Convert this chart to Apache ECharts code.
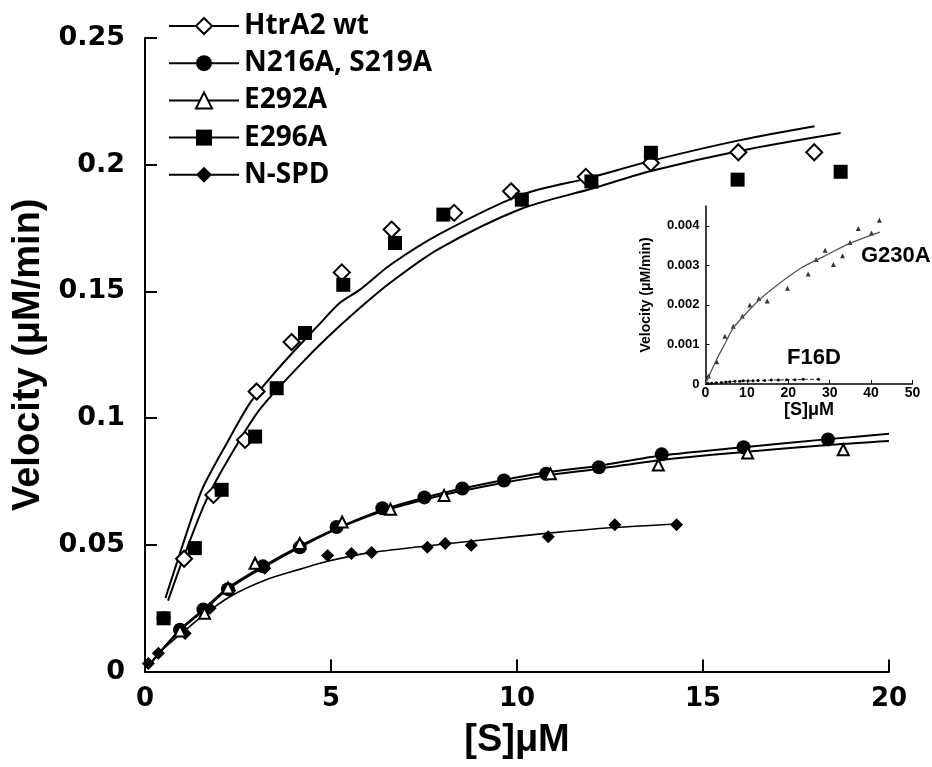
<!DOCTYPE html>
<html>
<head>
<meta charset="utf-8">
<script src="https://cdn.jsdelivr.net/npm/echarts@6/dist/echarts.min.js"></script>
<style>
html,body{margin:0;padding:0;background:#fff;}
#c{width:932px;height:767px;}
</style>
</head>
<body>
<div id="c"></div>
<script>
// ---------- main plot data ----------
const xTicks = [0, 5, 10, 15, 20];
const yTicks = [0, 0.05, 0.1, 0.15, 0.2, 0.25];

const wtX = [1.05, 1.84, 2.69, 3.0, 3.94, 5.29, 6.63, 8.31, 9.84, 11.85, 13.6, 15.95, 17.99];
const wtY = [0.0445, 0.0697, 0.0914, 0.1105, 0.130, 0.1575, 0.1744, 0.181, 0.1895, 0.1952, 0.2007, 0.2049, 0.2049];

const e296X = [0.5, 1.34, 2.06, 2.96, 3.54, 4.30, 5.33, 6.72, 8.02, 10.13, 12.0, 13.6, 15.93, 18.7];
const e296Y = [0.021, 0.0487, 0.0717, 0.0927, 0.1118, 0.1336, 0.1526, 0.1691, 0.1803, 0.1862, 0.1934, 0.2047, 0.1941, 0.1972];

const n216X = [0.5, 0.94, 1.57, 2.23, 3.17, 4.16, 5.15, 6.38, 7.51, 8.53, 9.65, 10.78, 12.2, 13.89, 16.09, 18.36];
const n216Y = [0.021, 0.0165, 0.0245, 0.0325, 0.0415, 0.049, 0.057, 0.0644, 0.0687, 0.0722, 0.0754, 0.078, 0.0806, 0.0857, 0.0885, 0.0916];

const e292X = [0.94, 1.6, 2.23, 2.96, 4.16, 5.3, 6.6, 8.04, 10.9, 13.8, 16.2, 18.77];
const e292Y = [0.016, 0.023, 0.033, 0.0427, 0.0505, 0.059, 0.064, 0.0695, 0.078, 0.0815, 0.0862, 0.0875];

const nspdX = [0.09, 0.36, 1.08, 1.75, 2.28, 3.22, 4.91, 5.55, 6.09, 7.59, 8.07, 8.77, 10.84, 12.63, 14.29];
const nspdY = [0.0032, 0.0072, 0.015, 0.025, 0.032, 0.0407, 0.0458, 0.0466, 0.047, 0.049, 0.0505, 0.0498, 0.0532, 0.0579, 0.0579];

// fitted curves
const wtCurveX = [0.55, 0.94, 1.3, 1.57, 2.2, 2.82, 3.36, 3.99, 4.62, 5.24, 5.78, 6.6, 7.9, 10.1, 12.0, 13.6, 16.0, 18.0];
const wtCurveY = [0.029, 0.0467, 0.0625, 0.073, 0.0901, 0.1059, 0.1158, 0.1262, 0.136, 0.1455, 0.1507, 0.1605, 0.1725, 0.188, 0.195, 0.2015, 0.2097, 0.2152];

const e296CurveX = [0.62, 1.08, 1.66, 2.33, 3.09, 4.17, 4.88, 5.78, 6.6, 7.9, 10.1, 12.0, 13.6, 16.0, 18.7];
const e296CurveY = [0.028, 0.0467, 0.068, 0.086, 0.1035, 0.121, 0.1315, 0.1435, 0.1535, 0.1668, 0.1825, 0.1905, 0.1975, 0.2055, 0.2125];

const midCurveX = [0.05, 0.94, 1.57, 2.23, 3.17, 4.16, 5.15, 6.38, 7.56, 8.53, 9.65, 10.78, 12.2, 13.89, 16.09, 18.44, 20];
const n216CurveY = [0.0015, 0.0165, 0.0245, 0.033, 0.0415, 0.0495, 0.0565, 0.0638, 0.0688, 0.0722, 0.0756, 0.0785, 0.0812, 0.0852, 0.0885, 0.0918, 0.0938];
const e292CurveY = [0.0015, 0.0163, 0.024, 0.0325, 0.041, 0.049, 0.0562, 0.0632, 0.068, 0.0713, 0.0745, 0.0773, 0.080, 0.0835, 0.0866, 0.0895, 0.091];

const nspdCurveX = [0.05, 0.5, 1.02, 1.6, 2.28, 3.22, 4.2, 4.91, 6.1, 7.56, 8.8, 10.78, 12.6, 14.26];
const nspdCurveY = [0.0015, 0.009, 0.0155, 0.0225, 0.0295, 0.036, 0.0405, 0.0435, 0.047, 0.0495, 0.0515, 0.0545, 0.0568, 0.0582];

// ---------- inset data ----------
const insetXTicks = [0, 10, 20, 30, 40, 50];
const insetYTicks = [0, 0.001, 0.002, 0.003, 0.004];

const g230X = [0.7, 2.7, 4.7, 6.7, 8.9, 10.7, 12.9, 14.9, 19.8, 24.8, 26.7, 28.9, 30.9, 33.1, 34.9, 36.9, 40.1, 42.0];
const g230Y = [0.0002, 0.00056, 0.00121, 0.00146, 0.00172, 0.002, 0.00216, 0.0021, 0.00242, 0.00278, 0.00315, 0.00338, 0.00302, 0.00324, 0.00358, 0.00393, 0.00382, 0.00414];
const g230CurveX = [0, 2.6, 4.6, 6.6, 8.7, 12.7, 17.2, 22.9, 28.5, 35, 42.1];
const g230CurveY = [0, 0.0006, 0.001, 0.0014, 0.00166, 0.0021, 0.00249, 0.00292, 0.00322, 0.00356, 0.00384];

const f16dX = [0.6, 1.5, 2.6, 3.8, 4.9, 5.9, 7.1, 8.3, 9.1, 10.3, 11.5, 12.7, 14.3, 15.9, 17.6, 19.6, 21.6, 23.6, 27.3];
const f16dY = [0.00001, 0.00002, 0.00003, 0.00004, 0.00005, 0.00006, 0.00007, 0.00007, 0.00008, 0.00008, 0.00008, 0.00009, 0.00009, 0.0001, 0.0001, 0.00011, 0.00011, 0.00012, 0.00012];

const legendNames = ['HtrA2 wt', 'N216A, S219A', 'E292A', 'E296A', 'N-SPD'];
const insetLabels = ['G230A', 'F16D'];

function pairs(xs, ys) { return xs.map((x, i) => [x, ys[i]]); }

function curve(name, xs, ys, width, xi) {
  return {
    name: name, type: 'line', data: pairs(xs, ys), xAxisIndex: xi || 0, yAxisIndex: xi || 0,
    symbol: 'none', smooth: 0.3, silent: true, z: 2,
    lineStyle: { color: '#000', width: width }
  };
}
function markers(name, xs, ys, symbol, size, z) {
  return {
    name: name, type: 'line', data: pairs(xs, ys),
    symbol: symbol, symbolSize: size, showSymbol: true, z: z || 3,
    itemStyle: { color: '#000' },
    lineStyle: { opacity: 0, width: 0 },
    silent: true
  };
}

const tickFont = { fontFamily: 'DejaVu Sans', fontWeight: 'bold', fontSize: 26, color: '#000' };
const insetFont = { fontFamily: 'Liberation Sans', fontWeight: 'bold', fontSize: 13, color: '#000' };

const option = {
  animation: false,
  backgroundColor: '#fff',
  grid: [
    { left: 145, right: 43, top: 38, bottom: 95.5, containLabel: false },
    { left: 705.5, width: 207, top: 206, height: 178, containLabel: false }
  ],
  legend: {
    data: legendNames,
    orient: 'vertical',
    left: 163, top: 7,
    itemWidth: 70, itemHeight: 20, itemGap: 9.2,
    textStyle: { fontFamily: 'Open Sans', fontWeight: 'bold', fontSize: 28, color: '#000', lineHeight: 28 },
    lineStyle: { color: '#000', width: 2, opacity: 1 },
    selectedMode: false
  },
  xAxis: [
    {
      type: 'value', min: xTicks[0], max: xTicks[xTicks.length - 1], interval: 5, gridIndex: 0,
      name: '[S]μM', nameLocation: 'middle', nameGap: 50,
      nameTextStyle: { fontFamily: 'Liberation Sans', fontWeight: 'bold', fontSize: 38, color: '#000' },
      axisLine: { show: true, lineStyle: { color: '#000', width: 2 } },
      axisTick: { show: true, inside: true, length: 12, lineStyle: { color: '#000', width: 2 } },
      axisLabel: Object.assign({ margin: 15 }, tickFont),
      splitLine: { show: false }
    },
    {
      type: 'value', min: insetXTicks[0], max: insetXTicks[insetXTicks.length - 1], interval: 10, gridIndex: 1,
      name: '[S]μM', nameLocation: 'middle', nameGap: 17,
      nameTextStyle: { fontFamily: 'Liberation Sans', fontWeight: 'bold', fontSize: 18, color: '#000' },
      axisLine: { show: true, lineStyle: { color: '#000', width: 1.5 } },
      axisTick: { show: true, inside: true, length: 4, lineStyle: { color: '#000', width: 1 } },
      axisLabel: Object.assign({ margin: 2 }, insetFont, { fontSize: 14 }),
      splitLine: { show: false }
    }
  ],
  yAxis: [
    {
      type: 'value', min: yTicks[0], max: yTicks[yTicks.length - 1], interval: 0.05, gridIndex: 0,
      name: 'Velocity (μM/min)', nameLocation: 'middle', nameGap: 88,
      nameTextStyle: { fontFamily: 'Liberation Sans', fontWeight: 'bold', fontSize: 38, color: '#000' },
      axisLine: { show: true, lineStyle: { color: '#000', width: 2 } },
      axisTick: { show: true, inside: true, length: 12, lineStyle: { color: '#000', width: 2 } },
      axisLabel: Object.assign({ margin: 20 }, tickFont, { fontSize: 27 }),
      splitLine: { show: false }
    },
    {
      type: 'value', min: insetYTicks[0], max: 0.0045, interval: 0.001, gridIndex: 1,
      name: 'Velocity (μM/min)', nameLocation: 'middle', nameGap: 52,
      nameTextStyle: { fontFamily: 'Liberation Sans', fontWeight: 'bold', fontSize: 14, color: '#000' },
      axisLine: { show: true, lineStyle: { color: '#000', width: 1.5 } },
      axisTick: { show: true, inside: true, length: 4, lineStyle: { color: '#000', width: 1 } },
      axisLabel: Object.assign({ margin: 6, showMaxLabel: false }, insetFont),
      splitLine: { show: false }
    }
  ],
  series: [
    curve('wt fit', wtCurveX, wtCurveY, 2),
    curve('E296A fit', e296CurveX, e296CurveY, 2),
    curve('N216A fit', midCurveX, n216CurveY, 2),
    curve('E292A fit', midCurveX, e292CurveY, 2),
    curve('N-SPD fit', nspdCurveX, nspdCurveY, 1.6),
    markers('HtrA2 wt', wtX, wtY, 'emptyDiamond', 16, 3),
    markers('N216A, S219A', n216X, n216Y, 'circle', 14, 4),
    markers('E292A', e292X, e292Y, 'emptyTriangle', 11, 5),
    markers('E296A', e296X, e296Y, 'rect', 14, 4),
    markers('N-SPD', nspdX, nspdY, 'diamond', 13, 4),
    {
      name: 'G230A fit', type: 'line', xAxisIndex: 1, yAxisIndex: 1, data: pairs(g230CurveX, g230CurveY),
      symbol: 'none', smooth: 0.3, silent: true, lineStyle: { color: '#555', width: 1.3 }
    },
    {
      name: 'G230A', type: 'scatter', xAxisIndex: 1, yAxisIndex: 1, data: pairs(g230X, g230Y),
      symbol: 'triangle', symbolSize: 5, silent: true, itemStyle: { color: '#000' }
    },
    {
      name: 'F16D', type: 'line', xAxisIndex: 1, yAxisIndex: 1, data: pairs(f16dX, f16dY),
      symbol: 'circle', symbolSize: 3, showSymbol: true, silent: true, smooth: 0.3,
      itemStyle: { color: '#000' }, lineStyle: { color: '#333', width: 1, type: 'dashed' }
    }
  ],
  graphic: [
    { type: 'text', left: 861, top: 245, silent: true,
      style: { text: insetLabels[0], fill: '#000', font: 'bold 22px "Liberation Sans"' } },
    { type: 'text', left: 787, top: 347, silent: true,
      style: { text: insetLabels[1], fill: '#000', font: 'bold 22px "Liberation Sans"' } }
  ]
};

const chart = echarts.init(document.getElementById('c'));
chart.setOption(option);
</script>
</body>
</html>
